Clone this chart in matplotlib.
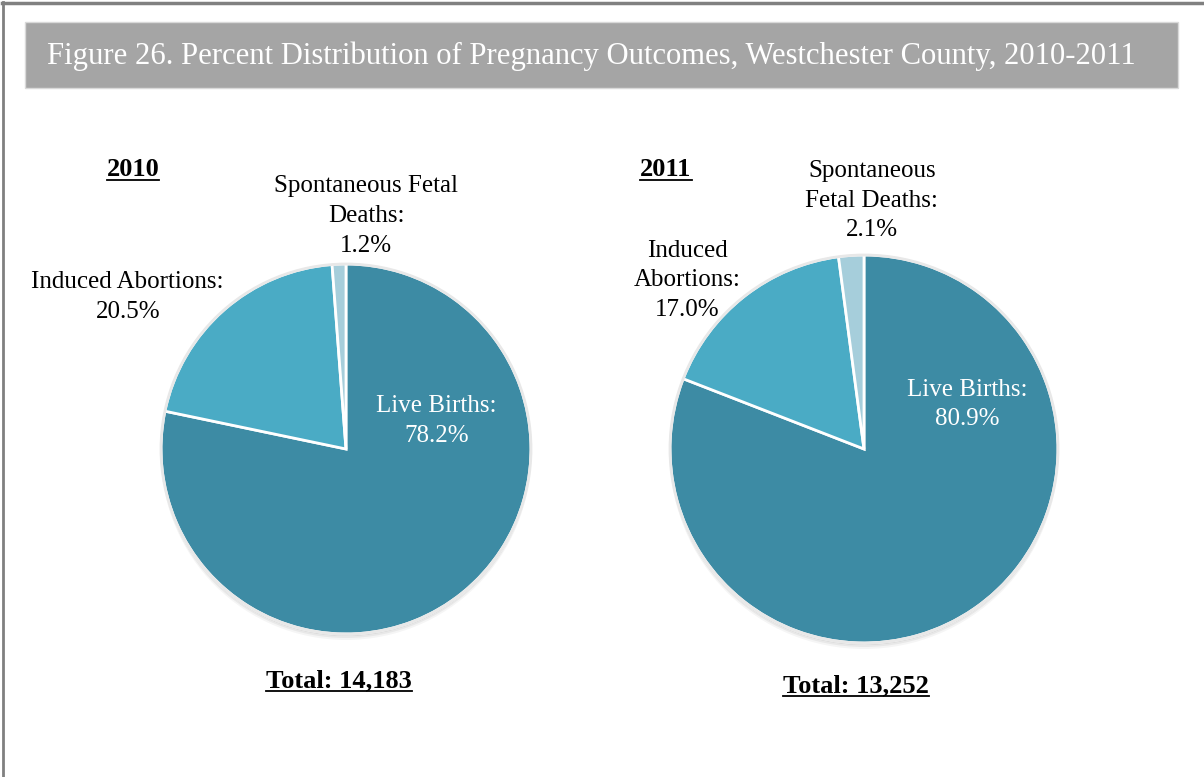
import matplotlib
matplotlib.use("Agg")
import matplotlib.pyplot as plt
from matplotlib.lines import Line2D
from matplotlib.patches import Rectangle, Circle

# data
outcomes = ["Live Births", "Induced Abortions", "Spontaneous Fetal Deaths"]
pct_2010 = [78.2, 20.5, 1.2]
pct_2011 = [80.9, 17.0, 2.1]
totals = {"2010": "14,183", "2011": "13,252"}
labels_2010 = ["Live Births:\n78.2%", "Induced Abortions:\n20.5%",
               "Spontaneous Fetal\nDeaths:\n1.2%"]
labels_2011 = ["Live Births:\n80.9%", "Induced\nAbortions:\n17.0%",
               "Spontaneous\nFetal Deaths:\n2.1%"]
colors = ["#3d8ba4", "#4aabc5", "#a6cedb"]

W, H = 1204, 777
plt.rcParams["font.family"] = ["Liberation Serif", "DejaVu Serif"]
fig = plt.figure(figsize=(W / 100, H / 100), dpi=100)


def px(x, y):
    """pixel (from top-left) -> figure fraction"""
    return x / W, 1 - y / H


# frame lines (top + left) and title bar
fig.add_artist(Line2D([2 / W, 1], [1 - 3 / H] * 2, color="#808080", lw=2.5))
fig.add_artist(Line2D([3 / W] * 2, [0, 1 - 2 / H], color="#808080", lw=2))
fig.add_artist(Rectangle(px(25, 88), 1153 / W, 66 / H, facecolor="#a5a5a5",
                         edgecolor="#d9d9d9", lw=1))
fig.text(*px(47, 56), "Figure 26. Percent Distribution of Pregnancy Outcomes, "
         "Westchester County, 2010-2011", color="white", fontsize=22.1,
         va="center", ha="left")


def draw_pie(values, labels, cx, cy, r, label_pos):
    ax = fig.add_axes([(cx - r) / W, (H - cy - r) / H, 2 * r / W, 2 * r / H])
    # soft shadow
    for k, a in [(6, 0.04), (4, 0.05), (2, 0.07)]:
        ax.add_patch(Circle((0.0, -k / r), 1.0, color="black", alpha=a, lw=0,
                            clip_on=False))
    wedges, _ = ax.pie(values, colors=colors, startangle=90, counterclock=False,
                       wedgeprops=dict(edgecolor="white", linewidth=2))
    for w in wedges:
        w.set_clip_on(False)
    ax.add_patch(Circle((0, 0), 1.0, fill=False, edgecolor="#e8e8e8", lw=2,
                        clip_on=False))
    ax.set_xlim(-1, 1)
    ax.set_ylim(-1, 1)
    ax.axis("off")
    for i, (lab, (x, y)) in enumerate(zip(labels, label_pos)):
        ax.text(x, y, lab, ha="center", va="center", fontsize=18,
                color="white" if i == 0 else "black", linespacing=1.45)
    return ax


draw_pie(pct_2010, labels_2010, 346, 449, 185,
         [(0.49, 0.15), (-1.18, 0.82), (0.11, 1.26)])
draw_pie(pct_2011, labels_2011, 864, 449, 194,
         [(0.53, 0.23), (-0.91, 0.87), (0.04, 1.28)])


def underlined(x, y, s, size):
    t = fig.text(*px(x, y), s, fontsize=size, fontweight="bold",
                 ha="center", va="center")
    fig.canvas.draw()
    bb = t.get_window_extent()
    yl = (bb.y0 + 2) / H
    fig.add_artist(Line2D([bb.x0 / W, bb.x1 / W], [yl, yl], color="black", lw=1.3))


underlined(133, 170, "2010", 19)
underlined(666, 170, "2011", 19)
underlined(339, 681, "Total: " + totals["2010"], 19)
underlined(856, 686, "Total: " + totals["2011"], 19)

fig.savefig("out.png", dpi=100, facecolor="white")
